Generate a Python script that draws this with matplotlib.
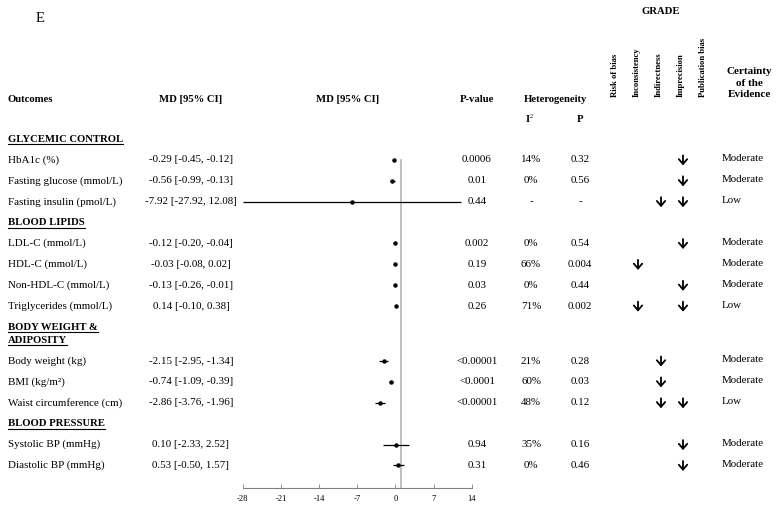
import matplotlib
matplotlib.use("Agg")
import matplotlib.pyplot as plt

# ---------------- data ----------------
sections = ["GLYCEMIC CONTROL", "BLOOD LIPIDS", "BODY WEIGHT &\nADIPOSITY", "BLOOD PRESSURE"]
section_of = [0, 0, 0, 1, 1, 1, 1, 2, 2, 2, 3, 3]
outcomes = ["HbA1c (%)", "Fasting glucose (mmol/L)", "Fasting insulin (pmol/L)",
            "LDL-C (mmol/L)", "HDL-C (mmol/L)", "Non-HDL-C (mmol/L)", "Triglycerides (mmol/L)",
            "Body weight (kg)", "BMI (kg/m²)", "Waist circumference (cm)",
            "Systolic BP (mmHg)", "Diastolic BP (mmHg)"]
md = [-0.29, -0.56, -7.92, -0.12, -0.03, -0.13, 0.14, -2.15, -0.74, -2.86, 0.10, 0.53]
ci_lo = [-0.45, -0.99, -27.92, -0.20, -0.08, -0.26, -0.10, -2.95, -1.09, -3.76, -2.33, -0.50]
ci_hi = [-0.12, -0.13, 12.08, -0.04, 0.02, -0.01, 0.38, -1.34, -0.39, -1.96, 2.52, 1.57]
p_values = ["0.0006", "0.01", "0.44", "0.002", "0.19", "0.03", "0.26",
            "<0.00001", "<0.0001", "<0.00001", "0.94", "0.31"]
i2 = ["14%", "0%", "-", "0%", "66%", "0%", "71%", "21%", "60%", "48%", "35%", "0%"]
het_p = ["0.32", "0.56", "-", "0.54", "0.004", "0.44", "0.002", "0.28", "0.03", "0.12", "0.16", "0.46"]
grade_domains = ["Risk of bias", "Inconsistency", "Indirectness", "Imprecision", "Publication bias"]
# downgraded GRADE domains (indices into grade_domains) for each outcome
downgrades = [[3], [3], [2, 3], [3], [1], [3], [1, 3], [2], [2], [2, 3], [3], [3]]
certainty = ["Moderate", "Moderate", "Low", "Moderate", "Moderate", "Moderate", "Low",
             "Moderate", "Moderate", "Low", "Moderate", "Moderate"]
x_ticks = [-28, -21, -14, -7, 0, 7, 14]
null_line = 0.95

# ---------------- layout ----------------
W, H = 777, 507
fig = plt.figure(figsize=(W / 100, H / 100), dpi=100)
plt.rcParams['font.family'] = ['Liberation Serif', 'DejaVu Sans']
tax = fig.add_axes([0, 0, 1, 1])
tax.set_xlim(0, W)
tax.set_ylim(H, 0)
tax.axis("off")

FS = 7.9
FB = 7.7
step = 20.9
y0 = 139.0

# compute row positions
sec_y = []
row_y = []
k = 0
extra = 0.0
for si, name in enumerate(sections):
    sec_y.append(y0 + step * k + extra)
    nlines = name.count("\n") + 1
    extra += 13.0 * (nlines - 1)
    k += 1
    for oi, s in enumerate(section_of):
        if s == si:
            row_y.append(y0 + step * k + extra)
            k += 1

x_out = 8
x_md = 191
x_p = 477
x_i2 = 531
x_hp = 580
x_grade = [615, 638, 661, 683, 703]
x_cert = 722

# headers
tax.text(36, 19, "E", fontsize=10.5, va="center", ha="left")
hy = 99
tax.text(x_out, hy, "Outcomes", fontsize=FB, fontweight="bold", va="center")
tax.text(x_md, hy, "MD [95% CI]", fontsize=FB, fontweight="bold", va="center", ha="center")
tax.text(348, hy, "MD [95% CI]", fontsize=FB, fontweight="bold", va="center", ha="center")
tax.text(x_p, hy, "P-value", fontsize=FB, fontweight="bold", va="center", ha="center")
tax.text(555, hy, "Heterogeneity", fontsize=FB, fontweight="bold", va="center", ha="center")
tax.text(x_i2 - 3, 120, "I", fontsize=FB, fontweight="bold", va="center", ha="center")
tax.text(x_i2 + 0.5, 116.5, "2", fontsize=FB * 0.6, va="center", ha="center")
tax.text(x_hp, 120, "P", fontsize=FB, fontweight="bold", va="center", ha="center")
tax.text(661, 11, "GRADE", fontsize=FB, fontweight="bold", va="center", ha="center")
for gx, gd in zip([615, 637, 659, 681, 703], grade_domains):
    tax.text(gx, 97, gd, fontsize=6.2, fontweight="bold", rotation=90, va="bottom", ha="center")
tax.text(749, 83, "Certainty\nof the\nEvidence", fontsize=FB + 0.3, fontweight="bold",
         va="center", ha="center", linespacing=1.35)

# section headers
sec_texts = []
for name, sy in zip(sections, sec_y):
    for li, line in enumerate(name.split("\n")):
        t = tax.text(x_out, sy + 13.0 * li, line, fontsize=FB, fontweight="bold", va="center")
        sec_texts.append(t)

# rows
for i, y in enumerate(row_y):
    tax.text(x_out, y, outcomes[i], fontsize=FS, va="center")
    tax.text(x_md, y, f"{md[i]:.2f} [{ci_lo[i]:.2f}, {ci_hi[i]:.2f}]", fontsize=FS,
             va="center", ha="center")
    tax.text(x_p, y, p_values[i], fontsize=FS, va="center", ha="center")
    tax.text(x_i2, y, i2[i], fontsize=FS, va="center", ha="center")
    tax.text(x_hp, y, het_p[i], fontsize=FS, va="center", ha="center")
    for d in downgrades[i]:
        tax.annotate("", xy=(x_grade[d], y + 5.5), xytext=(x_grade[d], y - 4.5),
                     arrowprops=dict(arrowstyle="->,head_length=0.35,head_width=0.3",
                                     color="black", lw=1.3, shrinkA=0, shrinkB=0))
    tax.text(x_cert, y - 1, certainty[i], fontsize=FS, va="center", ha="left")

# forest axes
ax_left, ax_right = 242.7, 471.7
ax_top, ax_bot = 130.0, 488.0
fax = fig.add_axes([ax_left / W, (H - ax_bot) / H, (ax_right - ax_left) / W, (ax_bot - ax_top) / H])
fax.set_xlim(x_ticks[0], x_ticks[-1])
fax.set_ylim(ax_bot, ax_top)
fax.patch.set_alpha(0)
for s in ["top", "right", "left"]:
    fax.spines[s].set_visible(False)
fax.spines["bottom"].set_color("#808080")
fax.spines["bottom"].set_linewidth(0.8)
fax.set_yticks([])
fax.set_xticks(x_ticks)
fax.set_xticklabels([str(t) for t in x_ticks], fontsize=6.2)
fax.tick_params(axis="x", direction="in", length=3, width=0.6, color="#808080", pad=5)
fax.plot([null_line, null_line], [row_y[0], ax_bot], color="#b5b5b5", lw=1.2, zorder=1)
fax.hlines(row_y, ci_lo, ci_hi, color="black", lw=0.9, zorder=2)
fax.plot(md, row_y, "o", color="black", ms=2.2, zorder=3)

# underline section headers
fig.canvas.draw()
r = fig.canvas.get_renderer()
inv = tax.transData.inverted()
for t in sec_texts:
    bb = t.get_window_extent(r)
    (x0, yb), (x1, _) = inv.transform([[bb.x0, bb.y0], [bb.x1, bb.y1]])
    tax.plot([x0, x1], [yb + 0.5, yb + 0.5], color="black", lw=0.8)

fig.savefig("out.png", dpi=100)
